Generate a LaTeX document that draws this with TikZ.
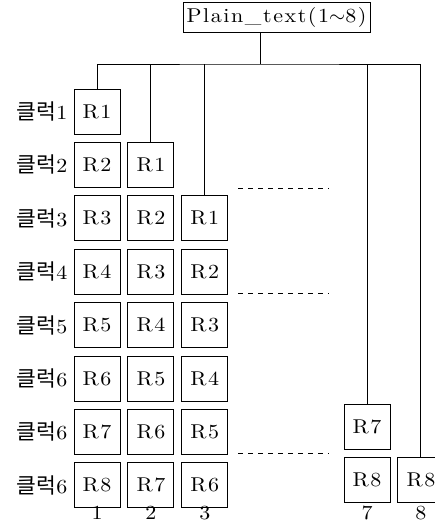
\documentclass[tikz,border=0pt]{standalone}
\usepackage{fontspec}
\newfontfamily\kor{Noto Sans CJK KR}
\newfontfamily\wide[FakeStretch=1.1,LetterSpace=8]{lmroman10-regular.otf}
\usetikzlibrary{positioning}
\tikzset{
  regbox/.style={draw,line width=0.9pt,minimum width=46pt,minimum height=45pt,inner sep=0pt,font=\wide\fontsize{20}{20}\selectfont},
  titlebox/.style={draw,line width=0.9pt,minimum width=187pt,minimum height=30pt,inner sep=0pt,font=\wide\fontsize{20}{20}\selectfont},
  clklabel/.style={inner sep=0pt,font=\wide\fontsize{20}{20}\selectfont},
  colnum/.style={inner sep=0pt,font=\wide\fontsize{20}{20}\selectfont},
  wire/.style={draw,line width=0.9pt},
  gapline/.style={draw,line width=0.9pt,dash pattern=on 5pt off 5pt}
}
\newcommand{\clk}[1]{{\kor\fontsize{21.5}{21.5}\selectfont 클럭}#1}
\begin{document}
\begin{tikzpicture}[x=1pt,y=-1pt,node distance=7.5pt and 7pt]
  \useasboundingbox (0,0) rectangle (435,528);
  \node[titlebox] (plain) at (276.5,17) {Plain\_text(1$\sim$8)};
  % column 1
  \node[regbox] (r1c1) at (97,111.5) {R1};
  \node[regbox,below=of r1c1] (r2c1) {R2};
  \node[regbox,below=of r2c1] (r3c1) {R3};
  \node[regbox,below=of r3c1] (r4c1) {R4};
  \node[regbox,below=of r4c1] (r5c1) {R5};
  \node[regbox,below=of r5c1] (r6c1) {R6};
  \node[regbox,below=of r6c1] (r7c1) {R7};
  \node[regbox,below=of r7c1] (r8c1) {R8};
  % column 2
  \node[regbox,right=of r2c1] (r2c2) {R1};
  \node[regbox,right=of r3c1] (r3c2) {R2};
  \node[regbox,right=of r4c1] (r4c2) {R3};
  \node[regbox,right=of r5c1] (r5c2) {R4};
  \node[regbox,right=of r6c1] (r6c2) {R5};
  \node[regbox,right=of r7c1] (r7c2) {R6};
  \node[regbox,right=of r8c1] (r8c2) {R7};
  % column 3
  \node[regbox,right=of r3c2] (r3c3) {R1};
  \node[regbox,right=of r4c2] (r4c3) {R2};
  \node[regbox,right=of r5c2] (r5c3) {R3};
  \node[regbox,right=of r6c2] (r6c3) {R4};
  \node[regbox,right=of r7c2] (r7c3) {R5};
  \node[regbox,right=of r8c2] (r8c3) {R6};
  % columns 7 and 8
  \node[regbox] (r7c7) at (367,426.5) {R7};
  \node[regbox,below=of r7c7] (r8c7) {R8};
  \node[regbox,right=of r8c7] (r8c8) {R8};
  % clock labels
  \node[clklabel,left=6pt of r1c1] (clk1) {\clk{1}};
  \node[clklabel,left=6pt of r2c1] (clk2) {\clk{2}};
  \node[clklabel,left=6pt of r3c1] (clk3) {\clk{3}};
  \node[clklabel,left=6pt of r4c1] (clk4) {\clk{4}};
  \node[clklabel,left=6pt of r5c1] (clk5) {\clk{5}};
  \node[clklabel,left=6pt of r6c1] (clk6) {\clk{6}};
  \node[clklabel,left=6pt of r7c1] (clk7) {\clk{6}};
  \node[clklabel,left=6pt of r8c1] (clk8) {\clk{6}};
  % column numbers
  \coordinate (numrow) at (0,513);
  \node[colnum] (n1) at (r8c1 |- numrow) {1};
  \node[colnum] (n2) at (r8c2 |- numrow) {2};
  \node[colnum] (n3) at (r8c3 |- numrow) {3};
  \node[colnum] (n7) at (r8c7 |- numrow) {7};
  \node[colnum] (n8) at (r8c8 |- numrow) {8};
  % bus
  \coordinate (drop) at (260,64);
  \draw[wire] (plain.south -| drop) -- (drop);
  \draw[wire] (r1c1.north) |- (drop) -| (r8c8.north);
  \draw[wire] (r2c2.north) -- (r2c2.north |- drop);
  \draw[wire] (r3c3.north) -- (r3c3.north |- drop);
  \draw[wire] (r7c7.north) -- (r7c7.north |- drop);
  % skipped columns
  \coordinate (g1a) at (238,188);  \coordinate (g1b) at (329,188);
  \coordinate (g2a) at (238,293);  \coordinate (g2b) at (329,293);
  \coordinate (g3a) at (238,453);  \coordinate (g3b) at (329,453);
  \draw[gapline] (g1a) -- (g1b);
  \draw[gapline] (g2a) -- (g2b);
  \draw[gapline] (g3a) -- (g3b);
\end{tikzpicture}
\end{document}
